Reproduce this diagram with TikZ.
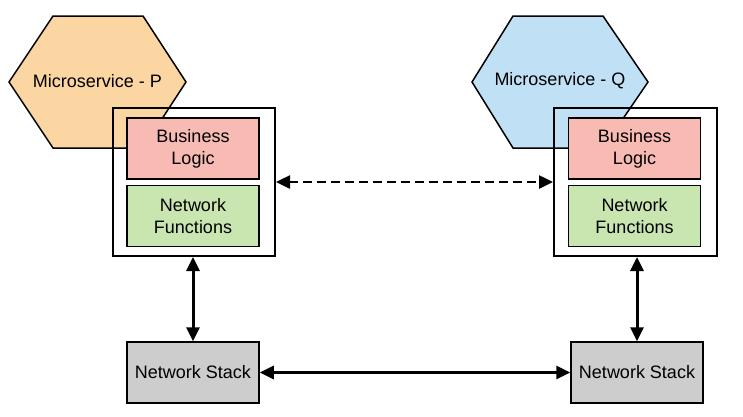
\documentclass[tikz,border=0pt]{standalone}
\usepackage{fontspec}
\setmainfont{Liberation Sans}
\usetikzlibrary{arrows.meta}
\definecolor{hexorange}{RGB}{251,214,163}
\definecolor{hexblue}{RGB}{192,225,245}
\definecolor{logicpink}{RGB}{248,187,180}
\definecolor{funcgreen}{RGB}{201,230,177}
\definecolor{stackgray}{RGB}{205,205,205}

\begin{document}
\begin{tikzpicture}[x=1pt, y=-1pt,
    txt/.style={align=center, inner sep=0pt, font=\fontsize{18}{22}\selectfont},
    inbox/.style={txt, draw=black, line width=1.5pt, minimum width=132pt, minimum height=61pt},
    outbox/.style={draw=black, line width=2pt, minimum width=162pt, minimum height=148pt, inner sep=0pt},
    hex/.style={draw=black, line width=1.5pt, line join=miter},
    link/.style={line width=3pt, {Triangle[length=14pt,width=13pt]}-{Triangle[length=14pt,width=13pt]}}]
    \useasboundingbox (0,0) rectangle (743,416);

    % microservice P
    \filldraw[hex, fill=hexorange] (9,82) -- (53,16) -- (143,16) -- (186,82) -- (143,148) -- (53,148) -- cycle;
    \node[txt] (msP) at (97.5,81) {Microservice - P};
    \node[outbox] (outP) at (194,182) {};
    \node[inbox, fill=logicpink] (logicP) at (193,148.5) {Business\\Logic};
    \node[inbox, fill=funcgreen] (funcP) at (193,216) {Network\\Functions};
    \node[inbox, fill=stackgray] (stackP) at (193,372.5) {Network Stack};

    % microservice Q
    \filldraw[hex, fill=hexblue] (472,82) -- (513,16) -- (603,16) -- (648,82) -- (603,148) -- (513,148) -- cycle;
    \node[txt] (msQ) at (560,81) {Microservice - Q};
    \node[outbox, minimum width=163pt] (outQ) at (635.5,182) {};
    \node[inbox, fill=logicpink] (logicQ) at (634.5,148.5) {Business\\Logic};
    \node[inbox, fill=funcgreen] (funcQ) at (634.5,216) {Network\\Functions};
    \node[inbox, fill=stackgray] (stackQ) at (637,372.5) {Network Stack};

    % links
    \draw[link, line width=2.5pt, dash pattern=on 9pt off 5pt] (outP.east) -- (outQ.west);
    \draw[link] (stackP.north |- outP.south) -- (stackP.north);
    \draw[link] (stackQ.north |- outQ.south) -- (stackQ.north);
    \draw[link] (stackP.east) -- (stackQ.west);
\end{tikzpicture}
\end{document}
